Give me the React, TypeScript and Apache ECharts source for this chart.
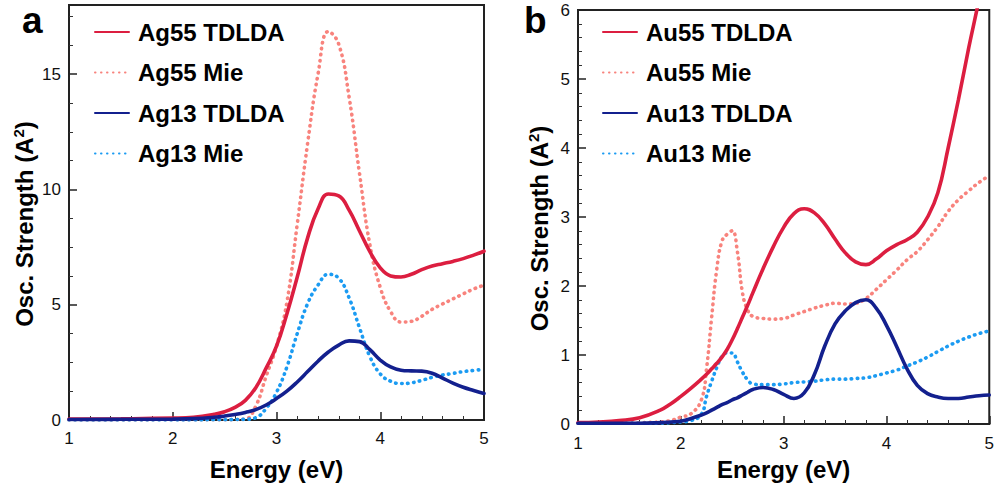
import React, { useEffect, useRef } from "react";
import * as echarts from "echarts";

// ---------- Panel a (Ag) ----------
const energyA = [1.0, 1.5, 2.0, 2.2, 2.4, 2.5, 2.6, 2.7, 2.8, 2.9, 3.0, 3.1, 3.2, 3.3, 3.4, 3.5, 3.6, 3.7, 3.8, 3.9, 4.0, 4.1, 4.2, 4.3, 4.4, 4.5, 4.6, 4.7, 4.8, 4.9, 5.0];
const ag55Tdlda = [0.04, 0.05, 0.08, 0.12, 0.25, 0.36, 0.55, 0.85, 1.4, 2.25, 3.2, 4.6, 6.2, 7.9, 9.15, 9.8, 9.72, 9.1, 8.2, 7.3, 6.6, 6.25, 6.2, 6.32, 6.52, 6.68, 6.78, 6.88, 7.0, 7.15, 7.32];
const ag55Mie = [0, 0, 0.01, 0.01, 0.01, 0.01, 0.02, 0.04, 0.6, 1.9, 3.2, 5.1, 8.5, 12.0, 15.0, 16.85, 16.3, 14.0, 10.7, 7.6, 5.75, 4.7, 4.25, 4.28, 4.5, 4.8, 5.03, 5.25, 5.47, 5.68, 5.85];
const ag13Tdlda = [0.02, 0.03, 0.04, 0.06, 0.12, 0.17, 0.24, 0.33, 0.45, 0.65, 0.93, 1.25, 1.65, 2.1, 2.55, 2.95, 3.25, 3.43, 3.4, 3.05, 2.6, 2.3, 2.16, 2.13, 2.12, 2.03, 1.82, 1.6, 1.42, 1.28, 1.15];
const ag13Mie = [0, 0, 0, 0, 0.01, 0.01, 0.02, 0.03, 0.1, 0.5, 1.2, 2.3, 3.75, 5.05, 5.85, 6.32, 6.15, 5.3, 4.0, 2.75, 2.0, 1.68, 1.58, 1.61, 1.72, 1.85, 1.95, 2.02, 2.1, 2.15, 2.2];

// ---------- Panel b (Au) ----------
const energyB = [1.0, 1.2, 1.4, 1.6, 1.8, 1.9, 2.0, 2.1, 2.2, 2.25, 2.3, 2.35, 2.4, 2.45, 2.5, 2.55, 2.6, 2.65, 2.7, 2.8, 2.9, 3.0, 3.1, 3.2, 3.3, 3.4, 3.5, 3.6, 3.7, 3.8, 3.9, 4.0, 4.1, 4.2, 4.3, 4.4, 4.5, 4.6, 4.7, 4.8, 4.9, 5.0];
const au55Tdlda = [0.02, 0.03, 0.05, 0.09, 0.2, 0.29, 0.4, 0.52, 0.65, 0.72, 0.8, 0.88, 0.97, 1.08, 1.22, 1.38, 1.55, 1.72, 1.9, 2.25, 2.57, 2.85, 3.05, 3.12, 3.06, 2.9, 2.68, 2.48, 2.35, 2.31, 2.39, 2.51, 2.6, 2.67, 2.78, 3.0, 3.35, 4.0, 4.7, 5.45, 6.15, 6.9];
const au55Mie = [0.01, 0.01, 0.01, 0.02, 0.03, 0.05, 0.1, 0.15, 0.35, 0.8, 1.55, 2.25, 2.65, 2.75, 2.8, 2.5, 1.9, 1.65, 1.56, 1.53, 1.52, 1.53, 1.58, 1.63, 1.68, 1.72, 1.75, 1.74, 1.75, 1.82, 1.95, 2.09, 2.23, 2.38, 2.5, 2.67, 2.86, 3.08, 3.25, 3.38, 3.5, 3.6];
const au13Tdlda = [0.01, 0.01, 0.01, 0.01, 0.02, 0.03, 0.04, 0.08, 0.13, 0.16, 0.2, 0.24, 0.28, 0.31, 0.35, 0.38, 0.42, 0.46, 0.5, 0.53, 0.5, 0.43, 0.37, 0.45, 0.72, 1.13, 1.45, 1.64, 1.76, 1.8, 1.68, 1.43, 1.12, 0.8, 0.56, 0.44, 0.39, 0.37, 0.37, 0.39, 0.41, 0.42];
const au13Mie = [0.01, 0.01, 0.01, 0.01, 0.01, 0.02, 0.03, 0.05, 0.14, 0.4, 0.62, 0.82, 0.98, 1.03, 1.03, 0.9, 0.75, 0.64, 0.58, 0.57, 0.57, 0.58, 0.6, 0.61, 0.62, 0.64, 0.65, 0.65, 0.66, 0.67, 0.7, 0.74, 0.78, 0.84, 0.9, 0.97, 1.05, 1.13, 1.2, 1.26, 1.31, 1.35];

const legendA = ["Ag55 TDLDA", "Ag55 Mie", "Ag13 TDLDA", "Ag13 Mie"];
const legendB = ["Au55 TDLDA", "Au55 Mie", "Au13 TDLDA", "Au13 Mie"];
const xTicks = [1, 2, 3, 4, 5];

const FONT = '"Liberation Sans", Arial, Helvetica, sans-serif';
const RED = "#dc1e40";
const SALMON = "#f8837d";
const NAVY = "#13208e";
const BLUE = "#1b9bf2";

const pairs = (xs: number[], ys: number[]) => xs.map((x, i) => [x, ys[i]]);

function makeSeries(name: string, xs: number[], ys: number[], color: string, dotted: boolean, idx: number) {
  return {
    name,
    type: "line",
    xAxisIndex: idx,
    yAxisIndex: idx,
    data: pairs(xs, ys),
    symbol: "none",
    showSymbol: false,
    smooth: 0.45,
    clip: true,
    color,
    lineStyle: dotted
      ? { color, width: 3.6, type: [0.5, 5.5], cap: "round" }
      : { color, width: 3.6, type: "solid", cap: "round" },
    itemStyle: { color },
  };
}

function xAxisCfg(idx: number, margin: number, nameGap: number) {
  return {
    type: "value",
    gridIndex: idx,
    min: 1,
    max: 5,
    interval: 1,
    name: "Energy (eV)",
    nameLocation: "middle",
    nameGap,
    nameTextStyle: { fontFamily: FONT, fontWeight: "bold", fontSize: 24, color: "#000" },
    axisLine: { show: true, lineStyle: { color: "#222", width: 2 } },
    axisTick: { show: true, inside: true, length: 8, lineStyle: { color: "#222", width: 1.5 } },
    minorTick: { show: true, splitNumber: 5, length: 4, lineStyle: { color: "#333", width: 1 } },
    splitLine: { show: false },
    minorSplitLine: { show: false },
    axisLabel: {
      fontFamily: FONT,
      fontSize: 17,
      color: "#111",
      margin,
      formatter: (v: number) => (xTicks.includes(v) ? String(v) : ""),
    },
  };
}

function yAxisCfg(idx: number, max: number, interval: number, minorSplit: number, nameGap: number) {
  return {
    type: "value",
    gridIndex: idx,
    min: 0,
    max,
    interval,
    name: "Osc. Strength (A{sup|2})",
    nameLocation: "middle",
    nameGap,
    nameTextStyle: {
      fontFamily: FONT,
      fontWeight: "bold",
      fontSize: 24,
      color: "#000",
      padding: [0, 23, 0, 0],
      rich: {
        sup: { fontFamily: FONT, fontWeight: "bold", fontSize: 15, color: "#000", verticalAlign: "top", padding: [0, 0, 11, 0] },
      },
    },
    axisLine: { show: true, lineStyle: { color: "#222", width: 2 } },
    axisTick: { show: true, inside: true, length: 8, lineStyle: { color: "#222", width: 1.5 } },
    minorTick: { show: true, splitNumber: minorSplit, length: 4, lineStyle: { color: "#333", width: 1 } },
    splitLine: { show: false },
    minorSplitLine: { show: false },
    axisLabel: {
      fontFamily: FONT,
      fontSize: 17,
      color: "#111",
      margin: 8,
      formatter: (v: number) => (v % interval === 0 ? String(v) : ""),
    },
  };
}

function legendCfg(names: string[], left: number) {
  return {
    data: names,
    orient: "vertical",
    left,
    top: 20,
    padding: 0,
    itemWidth: 34,
    itemHeight: 14,
    itemGap: 16.5,
    selectedMode: false,
    itemStyle: { opacity: 0 },
    textStyle: { fontFamily: FONT, fontWeight: "bold", fontSize: 24, color: "#000", lineHeight: 24, padding: [0, 0, 0, 4] },
  };
}

export default function App() {
  const ref = useRef<HTMLDivElement>(null);
  useEffect(() => {
    if (!ref.current) return;
    const chart = echarts.init(ref.current, null, { renderer: "svg" });
    chart.setOption({
      animation: false,
      backgroundColor: "#fff",
      title: [
        { text: "a", left: 22, top: 2, padding: 0, textStyle: { fontFamily: FONT, fontWeight: "bold", fontSize: 37, color: "#000" } },
        { text: "b", left: 524, top: 2, padding: 0, textStyle: { fontFamily: FONT, fontWeight: "bold", fontSize: 37, color: "#000" } },
      ],
      grid: [
        { left: 69, right: 513, top: 5, bottom: 67, show: true, borderColor: "#222", borderWidth: 2, backgroundColor: "transparent" },
        { left: 578, right: 4, top: 10, bottom: 63, show: true, borderColor: "#222", borderWidth: 2, backgroundColor: "transparent" },
      ],
      legend: [legendCfg(legendA, 94), legendCfg(legendB, 602)],
      xAxis: [xAxisCfg(0, 10, 37), xAxisCfg(1, 11, 33)],
      yAxis: [yAxisCfg(0, 18, 5, 4, 32), yAxisCfg(1, 6, 1, 5, 26)],
      series: [
        makeSeries(legendA[1], energyA, ag55Mie, SALMON, true, 0),
        makeSeries(legendA[3], energyA, ag13Mie, BLUE, true, 0),
        makeSeries(legendA[0], energyA, ag55Tdlda, RED, false, 0),
        makeSeries(legendA[2], energyA, ag13Tdlda, NAVY, false, 0),
        makeSeries(legendB[1], energyB, au55Mie, SALMON, true, 1),
        makeSeries(legendB[3], energyB, au13Mie, BLUE, true, 1),
        makeSeries(legendB[0], energyB, au55Tdlda, RED, false, 1),
        makeSeries(legendB[2], energyB, au13Tdlda, NAVY, false, 1),
      ],
    });
    return () => chart.dispose();
  }, []);
  return <div ref={ref} style={{ position: "absolute", left: 0, top: 0, width: 997, height: 487 }} />;
}
